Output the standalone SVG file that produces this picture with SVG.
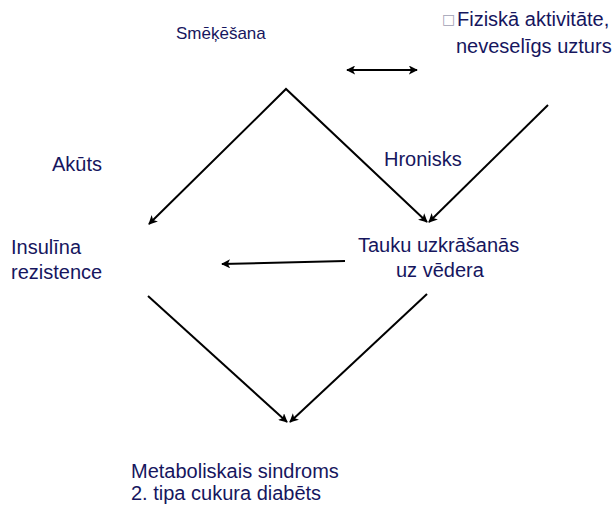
<svg xmlns="http://www.w3.org/2000/svg" width="616" height="506" viewBox="0 0 616 506">
  <style>
    .lbl { font-family: "Liberation Sans", Arial, sans-serif; font-size: 20px; fill: #16165e; }
    .small { font-size: 17px; }
    .box { font-family: "DejaVu Sans", sans-serif; font-size: 14px; fill: #a0a0b4; }
    .edge { stroke: #000; stroke-width: 2; fill: none; }
  </style>
  <defs>
    <marker id="arrow" viewBox="0 0 10 10" refX="9" refY="5" markerWidth="4.5" markerHeight="4.5" orient="auto-start-reverse" markerUnits="strokeWidth">
      <path d="M0,0 L10,5 L0,10 L2.5,5 Z" fill="#000"/>
    </marker>
  </defs>

  <!-- nodes -->
  <g id="smoking">
    <text class="lbl small" x="176" y="39">Smēķēšana</text>
  </g>
  <g id="lifestyle">
    <text class="box" x="442" y="24">□</text>
    <text class="lbl" x="457" y="26">Fiziskā aktivitāte,</text>
    <text class="lbl" x="456" y="53">neveselīgs uzturs</text>
  </g>
  <g id="acute">
    <text class="lbl" x="52" y="171">Akūts</text>
  </g>
  <g id="chronic">
    <text class="lbl" x="384" y="166">Hronisks</text>
  </g>
  <g id="insulin">
    <text class="lbl" x="11" y="254">Insulīna</text>
    <text class="lbl" x="11" y="279">rezistence</text>
  </g>
  <g id="fat">
    <text class="lbl" x="358" y="252">Tauku uzkrāšanās</text>
    <text class="lbl" x="396" y="277">uz vēdera</text>
  </g>
  <g id="outcome">
    <text class="lbl" x="131" y="478">Metaboliskais sindroms</text>
    <text class="lbl" x="131" y="500">2. tipa cukura diabēts</text>
  </g>

  <!-- connectors -->
  <g id="connectors">
    <line class="edge" x1="347" y1="70" x2="417" y2="70" marker-start="url(#arrow)" marker-end="url(#arrow)"/>
    <polyline class="edge" points="149,224 286,89 427,222" marker-start="url(#arrow)" marker-end="url(#arrow)"/>
    <line class="edge" x1="548" y1="105" x2="429" y2="222" marker-end="url(#arrow)"/>
    <line class="edge" x1="345" y1="261" x2="222" y2="264" marker-end="url(#arrow)"/>
    <line class="edge" x1="148" y1="296" x2="287" y2="422" marker-end="url(#arrow)"/>
    <line class="edge" x1="427" y1="294" x2="290" y2="422" marker-end="url(#arrow)"/>
  </g>
</svg>
